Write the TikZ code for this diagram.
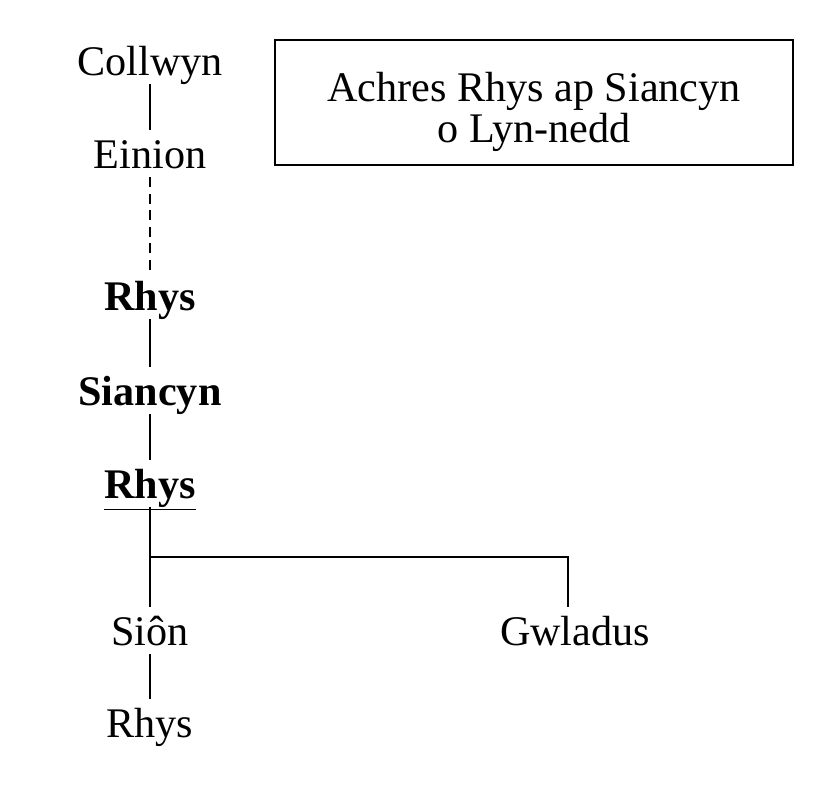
\documentclass[tikz,border=0pt]{standalone}
\usepackage{fontspec}
\setmainfont{Liberation Serif}
\usetikzlibrary{positioning}

\begin{document}
\begin{tikzpicture}[
person/.style={
  anchor=base,
  inner xsep=2pt,
  inner ysep=0pt,
  text height=0.76cm,
  text depth=0.18cm,
  font=\fontsize{24}{28}\selectfont
  },
key/.style={
  person,
  font=\fontsize{24}{28}\selectfont\bfseries
  },
titlebox/.style={
  draw,
  line width=0.8pt,
  align=center,
  minimum width=10.36cm,
  minimum height=2.5cm,
  font=\fontsize{24}{23.5}\selectfont
  },
line/.style={line width=1.1pt},
dots/.style={line width=1.1pt, dash pattern=on 5.7pt off 3.7pt}
]
\useasboundingbox (0,0) rectangle (16.54,-15.76);
\node[person] (collwyn) at (3.0,-1.50) {Collwyn};
\node[person] (einion) at (3.0,-3.36) {Einion};
\node[key] (rhysa) at (3.0,-6.20) {Rhys};
\node[key] (siancyn) at (3.0,-8.10) {Siancyn};
\node[key] (rhysb) at (3.0,-9.96) {\underline{Rhys}};
\node[person] (sion) at (3.0,-12.90) {Siôn};
\node[person] (gwladus) at (11.5,-12.90) {Gwladus};
\node[person] (rhysc) at (3.0,-14.74) {Rhys};
\node[titlebox] (title) at (10.68,-2.05) {\rule{0pt}{0.95cm}Achres Rhys ap Siancyn\\o Lyn-nedd};
\coordinate (split) at (3.0,-11.14);
% lines of descent
  \draw[line] (collwyn.south) -- (einion.north);
  \draw[dots] (einion.south) -- (rhysa.north);
  \draw[line] (rhysa.south) -- (siancyn.north);
  \draw[line] (siancyn.south) -- (rhysb.north);
  \draw[line] (rhysb.south) -- (sion.north);
  \draw[line] (split) -| ([xshift=-0.14cm]gwladus.north);
  \draw[line] (sion.south) -- (rhysc.north);
\end{tikzpicture}
\end{document}
